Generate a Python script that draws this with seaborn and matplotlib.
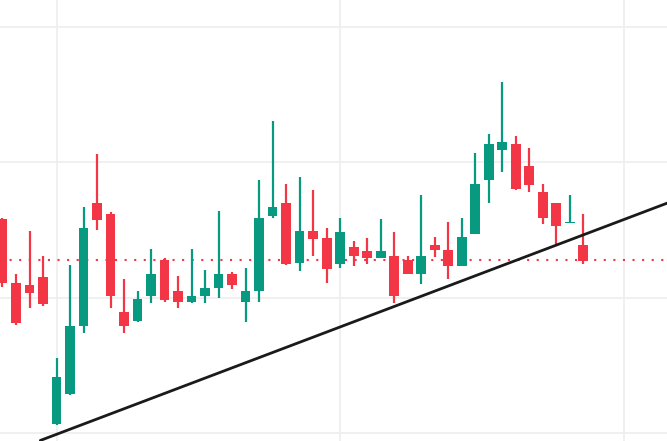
import matplotlib
matplotlib.use("Agg")
import matplotlib.pyplot as plt
import seaborn as sns
import numpy as np
import pandas as pd

# OHLC values (price units; gridlines every 10)
opens = [115.8, 111.1, 110.9, 111.5, 100.7, 102.9, 107.9, 117.0, 116.2, 108.9,
         108.3, 110.1, 112.8, 110.5, 109.7, 110.1, 110.7, 111.7, 109.7, 110.5,
         116.0, 117.0, 112.55, 114.9, 114.4, 112.5, 113.7, 113.4, 112.9, 113.1,
         112.8, 111.7, 113.9, 113.5, 112.3, 114.7, 118.7, 120.9, 121.3, 119.7,
         117.8, 117.0, 115.5, 113.9]
highs = [115.9, 111.7, 114.9, 113.1, 105.5, 112.4, 116.7, 120.6, 116.3, 111.4,
         110.5, 113.6, 112.9, 111.6, 113.6, 112.0, 116.4, 111.9, 112.2, 118.7,
         123.0, 118.4, 118.9, 117.9, 115.1, 115.9, 114.2, 114.4, 115.8, 114.8,
         113.1, 117.6, 114.5, 115.6, 115.9, 120.7, 122.1, 125.9, 121.9, 121.0,
         118.4, 117.0, 117.6, 116.2]
lows = [110.8, 108.0, 109.2, 109.4, 100.6, 102.8, 107.4, 115.0, 109.2, 107.4,
        108.2, 109.6, 109.7, 109.2, 109.6, 109.6, 110.0, 110.6, 108.2, 109.7,
        115.9, 112.4, 111.96, 113.1, 111.1, 112.2, 112.3, 112.5, 112.9, 109.6,
        111.7, 111.0, 113.0, 111.4, 112.3, 114.7, 117.0, 119.3, 117.9, 117.8,
        115.4, 113.9, 115.5, 112.5]
closes = [111.1, 108.1, 110.3, 109.5, 104.1, 107.9, 115.1, 115.7, 110.1, 107.9,
          109.9, 111.7, 109.8, 109.7, 110.1, 110.7, 111.7, 110.9, 110.5, 115.9,
          116.7, 112.5, 114.9, 114.3, 112.1, 114.8, 113.1, 112.9, 113.4, 110.1,
          111.7, 113.1, 113.5, 112.3, 114.5, 118.4, 121.3, 121.5, 118.0, 118.3,
          115.9, 115.3, 115.6, 112.7]

support_level = 112.75
trend_x = [2.8, 49.3]
trend_y = [99.45, 117.0]

UP = "#089981"
DOWN = "#F23645"

df = pd.DataFrame({"open": opens, "high": highs, "low": lows, "close": closes})
df["idx"] = np.arange(len(df))
df["up"] = df["close"] >= df["open"]

sns.set_theme(style="white")
fig = plt.figure(figsize=(6.67, 4.41), dpi=100)
ax = fig.add_axes([0, 0, 1, 1])

# grid
for gx in [4, 25, 46]:
    ax.axvline(gx, color="#eeeeee", lw=1.2, zorder=0)
for gy in [100, 110, 120, 130]:
    ax.axhline(gy, color="#eeeeee", lw=1.2, zorder=0)

colors = np.where(df["up"], UP, DOWN)
ax.vlines(df["idx"], df["low"], df["high"], colors=colors, lw=1.6, zorder=2)
bottoms = np.minimum(df["open"], df["close"])
heights = np.maximum(np.abs(df["close"] - df["open"]), 0.08)
ax.bar(df["idx"], heights, bottom=bottoms, width=0.72, color=colors,
       edgecolor=colors, linewidth=0, zorder=3)

ax.axhline(support_level, color=DOWN, lw=1.5, linestyle=(0, (1, 3.6)), zorder=1)

sns.lineplot(x=trend_x, y=trend_y, ax=ax, color="#1a1a1a", lw=2.0, zorder=4)

ax.set_xlim(-0.185, 49.2)
ax.set_ylim(99.41, 131.96)
ax.set_xticks([])
ax.set_yticks([])
for s in ax.spines.values():
    s.set_visible(False)
ax.set_facecolor("white")

fig.savefig("out.png", dpi=100)
